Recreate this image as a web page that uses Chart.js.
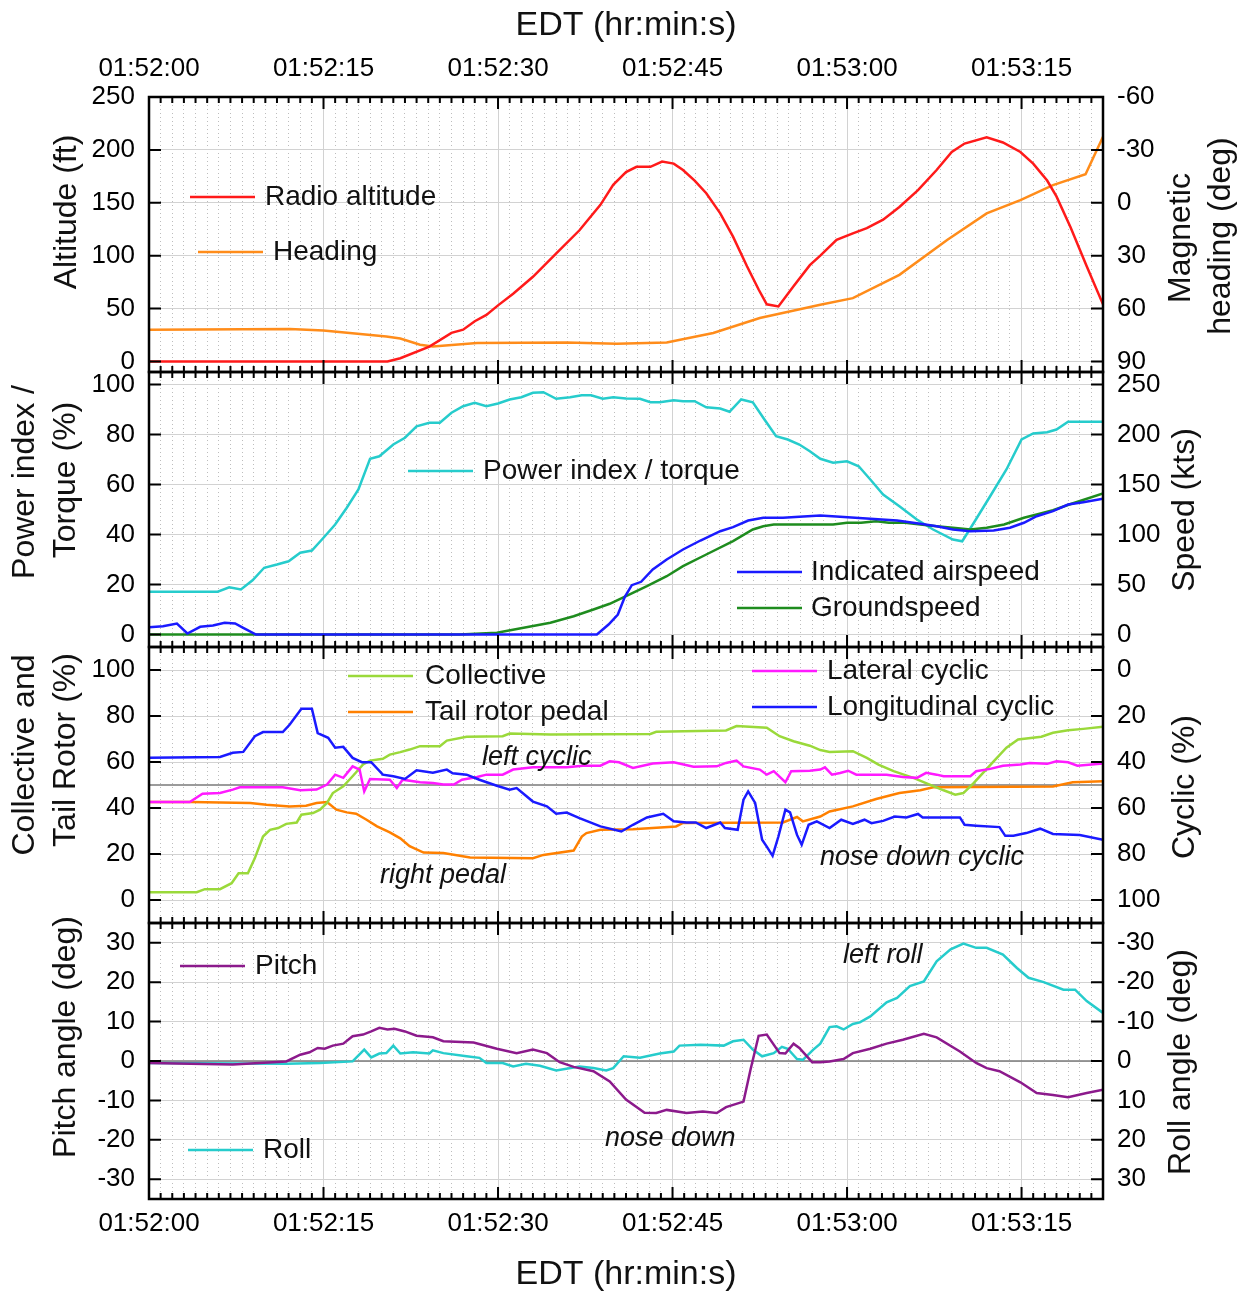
<!DOCTYPE html>
<html>
<head>
<meta charset="utf-8">
<script src="https://cdn.jsdelivr.net/npm/chart.js@4/dist/chart.umd.min.js"></script>
<style>
  body { margin: 0; background: #fff; }
  #wrap { position: relative; width: 1250px; height: 1294px; }
  #wrap canvas { position: absolute; left: 0; top: 0; }
</style>
</head>
<body>
<div id="wrap">
  <canvas id="c1" width="1250" height="1294"></canvas>
  <canvas id="c2" width="1250" height="1294"></canvas>
  <canvas id="c3" width="1250" height="1294"></canvas>
  <canvas id="c4" width="1250" height="1294"></canvas>
</div>
<script>
// ---- data (time in seconds after 01:52:00) ----
const altT = [0, 20.5, 21.6, 24.1, 26.0, 27.0, 28.0, 29.0, 30.0, 31.3,
              33.0, 34.9, 37.0, 38.8, 39.9, 41.0, 41.9, 43.1, 44.1, 45.1,
              45.9, 46.9, 47.9, 49.1, 50.2, 51.4, 52.4, 53.1, 54.1, 55.4,
              56.8, 57.7, 59.1, 60.5, 61.7, 63.1, 64.5, 66.1, 67.7, 69.0,
              70.1, 72.0, 73.4, 74.9, 76.0, 77.2, 78.0, 79.2, 80.6, 82];
const altV = [0, 0, 3, 14, 27, 30, 38, 44, 53, 64,
              80, 101, 124, 148, 167, 179, 184, 184, 189, 187,
              181, 171, 159, 140, 118, 90, 68, 54, 52, 71,
              91, 100, 115, 121, 126, 134, 146, 162, 181, 198,
              206, 212, 207, 198, 187, 171, 156, 127, 90, 54];

const hdgT = [0, 12.1, 15, 20.4, 21.6, 23.3, 24.4, 28.2, 35.9, 40.2,
              44.5, 48.5, 52.5, 57.7, 60.5, 64.5, 68.6, 72, 74.9, 77.7,
              80.5, 82];
const hdgV = [72, 71.6, 72.5, 75.8, 77, 80.5, 81.5, 79.6, 79.3, 80,
              79.3, 73.9, 65.4, 57.9, 54.1, 40.9, 21.1, 6, -1.5, -10,
              -16.2, -37.4];

const pwrT = [0, 5.9, 6.9, 7.9, 8.9, 9.9, 11, 12, 13, 14,
              15, 16, 17, 18, 19, 19.8, 21, 22, 23, 24.1,
              25, 26, 27, 28, 29, 30, 31, 32, 33, 33.9,
              35, 36.2, 37.2, 38, 39, 39.9, 41, 42.2, 43.1, 43.9,
              45.1, 45.9, 46.9, 47.9, 49.1, 49.9, 50.9, 51.9, 52.9, 53.9,
              54.9, 55.9, 56.8, 57.7, 58.8, 60, 61, 62, 63.1, 64.5,
              66, 67.4, 69.1, 69.9, 70.9, 72.3, 73.7, 75, 76, 77.2,
              78, 79, 82];
const pwrV = [17.1, 17.1, 18.9, 18, 21.7, 26.7, 28, 29.3, 32.7, 33.6,
              38.7, 44, 50.7, 58, 70.3, 71.3, 76, 78.7, 83.3, 84.7,
              84.7, 88.7, 91.3, 92.7, 91.3, 92.4, 94, 94.9, 96.7, 96.9,
              94.3, 94.9, 95.7, 95.7, 94.3, 94.9, 94.4, 94.3, 92.9, 92.9,
              93.7, 93.3, 93.3, 90.9, 90.4, 89.1, 94, 92.9, 86, 79.3,
              78, 76, 73.3, 70.3, 68.7, 69.3, 67.3, 62, 56, 51.3,
              46, 42, 38, 37.3, 44.7, 55.3, 66, 78, 80.4, 80.9,
              82, 85.1, 85.1];

const iasT = [0, 1.2, 2.4, 3.3, 4.4, 5.5, 6.5, 7.4, 8.1, 9.2,
              38.5, 39.5, 40.3, 40.9, 41.5, 42.3, 43.3, 44.5, 45.9, 47.4,
              49.1, 50.2, 51.5, 52.8, 54.5, 55.9, 57.7, 59.4, 62, 64.3,
              66.3, 67.7, 69.1, 70.6, 72.6, 74, 75.2, 76.3, 77.7, 79,
              80.3, 82];
const iasV = [7.3, 8.3, 11, 1, 7.7, 9, 11.7, 11, 6.7, 0,
              0, 10, 20, 37.7, 49.3, 52.7, 65, 75, 85, 94,
              103.3, 107.3, 114, 116.7, 116.7, 117.7, 119, 117.7, 115.7, 114,
              110.7, 108.3, 105, 103.3, 104, 106.7, 111.7, 118.3, 123.3, 130,
              132.3, 135.7];

const gsT = [0, 26.7, 29.9, 32.2, 34.5, 36.5, 38.2, 39.6, 41, 42.8,
             44.5, 45.9, 47.9, 50.2, 51.9, 52.8, 53.7, 57.7, 58.8, 60,
             61.2, 62.5, 63.6, 65, 66.3, 67.7, 69.1, 70.6, 72, 73.5,
             75.2, 76.3, 77.7, 79.1, 82];
const gsV = [0, 0, 1.7, 6.7, 11.7, 18.3, 25, 30.7, 38.3, 48.3,
             58.3, 68.3, 80, 93.3, 105, 108.3, 110, 110, 110, 111.7,
             111.7, 113.3, 111.7, 111.7, 110, 108.3, 106.7, 105, 106.7, 110,
             116.7, 120, 124.3, 130, 141];

const colT = [0, 4.1, 4.8, 6.1, 7.1, 7.7, 8.5, 9.1, 9.8, 10.4,
              11.1, 11.8, 12.7, 13.1, 14.1, 14.7, 15.3, 15.8, 16.7, 17.5,
              18.4, 19, 20.1, 20.7, 21.6, 22.4, 23.3, 25, 25.6, 27.3,
              30.4, 31, 34.5, 43.1, 43.6, 49.6, 50.5, 53.1, 54.2, 55.4,
              56.8, 57.7, 58.5, 60.5, 61.7, 62.7, 64, 65.7, 67.1, 68.3,
              69.3, 70, 70.9, 72.6, 73.7, 74.7, 76.7, 77.7, 79, 80.3,
              82];
const colV = [3.4, 3.4, 4.7, 4.7, 7.3, 11.6, 11.6, 18.2, 27.6, 30.5,
              31.3, 33.1, 33.7, 37.1, 37.8, 39.3, 42.2, 46.5, 49.4, 53.8,
              58.9, 60.6, 61.4, 63.2, 64.3, 65.4, 66.9, 66.9, 69.3, 71,
              71.2, 72.4, 72, 72.2, 73.1, 73.7, 75.6, 74.9, 71.2, 69,
              67.1, 65.2, 64.4, 64.7, 61.8, 58.9, 56, 53.1, 50.2, 47.7,
              45.8, 46.5, 50.9, 60.3, 66.2, 69.8, 71, 72.7, 73.8, 74.4,
              75.3];

const pedT = [0, 3.6, 8.7, 10.1, 12.1, 13.5, 14.4, 15.3, 16.1, 17,
              17.8, 18.7, 19.6, 20.7, 21.6, 22.4, 23.6, 25.3, 27.6, 33,
              33.9, 36.5, 37.2, 37.6, 38.8, 41.6, 45.3, 45.9, 54.5, 55.7,
              56.2, 57.7, 58.5, 60.5, 62.5, 64.5, 66.3, 67.4, 77.7, 79.4,
              82];
const pedV = [42.6, 42.6, 42.2, 41.4, 40.7, 41, 42.2, 42.6, 39.3, 38.1,
              37.5, 34.9, 32, 29.4, 26.8, 23.4, 20.6, 20.4, 18.5, 18.2,
              19.6, 21.5, 27.6, 29.1, 30.5, 30.8, 32, 33.5, 33.7, 36.1,
              34.2, 36.3, 38.5, 40.7, 43.9, 46.5, 47.7, 49, 49.4, 51.2,
              51.6];

// cyclic positions in % of the right-hand (reversed) axis
const latT = [0, 3.5, 4.6, 6.1, 7.2, 7.8, 11.5, 13, 14.4, 15.3,
              16, 16.7, 17.5, 18.1, 18.5, 19, 20.7, 21.3, 21.8, 23.3,
              24.4, 25.3, 26.2, 26.9, 28.2, 29, 30.4, 31.3, 33, 35.9,
              37.3, 38.8, 39.6, 40.4, 41.6, 43.3, 45.1, 46.8, 48.8, 49.6,
              50.5, 51.1, 52.5, 53.1, 53.7, 54.7, 55.2, 56.8, 57.7, 58.1,
              58.7, 59.4, 60.1, 60.8, 63.4, 64.8, 66, 66.8, 67.7, 68.3,
              70.6, 71.1, 72.3, 73.4, 74.9, 75.7, 77.2, 78, 79, 79.8,
              82];
const latV = [57.4, 57.4, 53.8, 53.5, 52, 51, 51, 52.3, 52, 49.8,
              45.5, 46.9, 41.9, 43.3, 52.8, 47.4, 47.7, 51.3, 47.7, 48.8,
              49.1, 49.8, 49.8, 47.7, 46.5, 45.5, 45.5, 43.3, 42.3, 42.3,
              41.6, 41.6, 39.7, 40.1, 42.6, 40.7, 40.1, 42.1, 41.9, 40.4,
              39.4, 41.9, 43.3, 45.5, 44, 48.8, 44, 43.8, 43.3, 42.3,
              45.5, 44.8, 43.8, 45.5, 45.5, 46.5, 46.9, 44.7, 45.5, 46.2,
              46.2, 44, 43, 41.6, 41.1, 40.4, 40.8, 39.7, 40.1, 41.6,
              40.7];

const lonT = [0, 6.1, 7.2, 8.1, 9.1, 9.8, 11.5, 12.1, 13.1, 14,
              14.5, 15.4, 16, 16.7, 17.5, 18.3, 19.1, 20.1, 21, 22,
              23, 24.4, 25.6, 26.1, 27.3, 28.4, 29.9, 31, 31.6, 33,
              34.2, 35, 35.9, 37, 38.8, 40.6, 41.6, 42.8, 44.2, 45.1,
              46.2, 47, 47.9, 49.1, 49.5, 50.6, 51.1, 51.5, 52.1, 52.7,
              53.1, 53.6, 54.1, 54.7, 55.1, 55.7, 56.1, 56.7, 57.4, 58.5,
              59.5, 60.5, 61.5, 62.1, 63.1, 64.1, 65.1, 66.1, 66.5, 69.7,
              70.1, 71.1, 73.1, 73.6, 74.3, 75.4, 76.6, 77.7, 80, 82];
const lonV = [38.2, 37.8, 36, 35.6, 28.8, 27, 27, 23.7, 16.8, 16.8,
              27.4, 29.5, 33.8, 33.4, 38.2, 40.1, 40.1, 45.5, 46.2, 47.4,
              43.6, 44.7, 43.3, 44.9, 45.5, 47.7, 50.3, 52, 51.3, 57.2,
              59.3, 62.5, 62, 64.4, 68, 70.2, 67.3, 64.1, 62.5, 65.8,
              66.3, 66.3, 68.7, 66.3, 68.7, 69.5, 56.4, 52.8, 57.8, 73.8,
              76.8, 80.8, 72.4, 60.7, 61.9, 71.7, 76, 67.3, 65.8, 68.7,
              65.1, 66.9, 65.1, 66.6, 65.6, 63.7, 64.1, 62.6, 64.1, 64.1,
              67.3, 67.7, 68.3, 72.1, 72.1, 70.9, 69, 71.3, 71.7, 73.8];

const pitT = [0, 7.2, 11.8, 13, 13.8, 14.5, 15.1, 15.8, 16.7, 17.5,
              18.4, 19.1, 19.8, 20.5, 21.1, 22, 23, 24.4, 25.3, 27.9,
              29.9, 31.6, 33, 34.2, 35.3, 36.5, 38.2, 39.6, 41, 42.6,
              43.6, 44.5, 46.2, 47.6, 48.8, 49.6, 51.1, 51.7, 52.4, 53.1,
              54.2, 54.7, 55.4, 55.9, 57, 57.7, 58.5, 59.7, 60.5, 62,
              63.4, 64.8, 66.6, 67.7, 69.7, 71.1, 72, 73.1, 74.9, 76.3,
              77.7, 79, 80.6, 82];
const pitV = [-0.5, -0.9, -0.1, 1.6, 2.2, 3.3, 3.1, 3.9, 4.4, 6.3,
              6.7, 7.5, 8.4, 8, 8.2, 7.5, 6.4, 6, 5, 4.7,
              3.1, 2, 2.9, 2, -0.3, -1.5, -2.6, -5.2, -9.8, -13.1,
              -13.2, -12.4, -13.2, -12.8, -13.2, -11.7, -10.3, -2.2, 6.4, 6.7,
              2, 1.9, 4.4, 3.3, -0.3, -0.3, -0.1, 0.5, 2, 3.1,
              4.4, 5.4, 6.9, 6, 2.4, -0.5, -1.8, -2.6, -5.4, -8.1,
              -8.6, -9.2, -8.1, -7.3];

const rolT = [0, 11.8, 14.7, 17.5, 18.5, 19.1, 19.8, 20.4, 21, 21.6,
              22.7, 24.1, 24.4, 25.3, 27.3, 28.4, 29, 30.4, 31.3, 32.4,
              33.6, 35, 37, 38.2, 39.3, 39.9, 40.8, 42.2, 43.9, 45.1,
              45.6, 47.4, 49.4, 50.2, 51.1, 51.9, 52.7, 53.7, 54.4, 54.9,
              55.7, 56.2, 57.1, 57.7, 58.5, 59.1, 59.7, 60.5, 61.1, 62,
              63.4, 64.3, 65.4, 66.6, 67.7, 68.9, 70, 71.1, 72, 73.4,
              74.6, 75.6, 76.9, 78.6, 79.6, 80.6, 82];
const rolV = [0.5, 0.7, 0.5, 0.1, -2.9, -0.9, -1.9, -2, -3.9, -1.9,
              -2.2, -1.9, -2.7, -2, -1.2, -0.8, 0.5, 0.5, 1.4, 0.7,
              1.2, 2.4, 1.4, 1.8, 2.4, 1.8, -1.2, -0.8, -1.9, -2.4,
              -3.9, -4.1, -3.9, -5, -5.4, -2.9, -1.2, -2, -3.6, -3.1,
              -0.5, -0.3, -2.9, -4.4, -8.6, -8.8, -8, -9.4, -9.8, -11.3,
              -14.9, -16, -19, -20.2, -25.3, -28.3, -29.8, -28.7, -28.7, -27,
              -23.6, -21.1, -20, -18.1, -18.1, -15.2, -12.2];

const refT = [0, 82];
const centreV = [50, 50];
const zeroV = [0, 0];

// ---- axis ticks ----
const X_MAX = 82;
const xTickVals = [];
for (let s = 0; s <= 81; s++) xTickVals.push(s);
const ticksAlt = [0, 25, 50, 75, 100, 125, 150, 175, 200, 225, 250];
const ticksHdg = [-60, -45, -30, -15, 0, 15, 30, 45, 60, 75, 90];
const ticksPct = [0, 10, 20, 30, 40, 50, 60, 70, 80, 90, 100];
const ticksKts = [0, 25, 50, 75, 100, 125, 150, 175, 200, 225, 250];
const ticksDeg = [-30, -25, -20, -15, -10, -5, 0, 5, 10, 15, 20, 25, 30];

const FONT = "'Liberation Sans', Arial, sans-serif";
const isMaj = (v, step) => Math.abs(v / step - Math.round(v / step)) < 1e-6;
const pts = (ts, vs) => ts.map((t, i) => ({x: t, y: vs[i]}));
const xLabel = v => '01:' + (52 + Math.floor(v / 60)) + ':' + String(v % 60).padStart(2, '0');

function line(ts, vs, color, axis, width) {
  return {
    data: pts(ts, vs), borderColor: color, backgroundColor: color,
    borderWidth: width || 2.5, pointRadius: 0, tension: 0, yAxisID: axis
  };
}

function xScale(pos, show, h) {
  return {
    type: 'linear', position: pos, min: 0, max: X_MAX,
    afterBuildTicks: s => { s.ticks = xTickVals.map(v => ({value: v})); },
    afterFit: s => { s.height = h; },
    ticks: {
      display: show, autoSkip: false, maxRotation: 0, minRotation: 0,
      padding: pos === 'top' ? 13 : 9, color: '#000',
      font: {family: FONT, size: 26},
      callback: v => isMaj(v, 15) ? xLabel(v) : ''
    },
    grid: {
      drawTicks: false, lineWidth: 1,
      color: c => (c.tick && !isMaj(c.tick.value, 15)) ? '#bdbdbd' : '#d2d2d2'
    },
    border: {display: false, dash: c => (c.tick && !isMaj(c.tick.value, 15)) ? [1, 3] : []}
  };
}

function yScale(pos, min, max, list, major, reverse) {
  const left = pos === 'left';
  return {
    type: 'linear', position: pos, min: min, max: max, reverse: !!reverse,
    afterBuildTicks: s => { s.ticks = list.map(v => ({value: v})); },
    afterFit: s => { s.width = left ? 149 : 147; },
    ticks: {
      padding: 14, color: '#000', font: {family: FONT, size: 26},
      callback: v => isMaj(v, major) ? String(v) : ''
    },
    grid: left ? {
      drawTicks: false, lineWidth: 1,
      color: c => (c.tick && !isMaj(c.tick.value, major)) ? '#bdbdbd' : '#d2d2d2'
    } : {drawOnChartArea: false, drawTicks: false},
    border: {display: false, dash: c => (c.tick && !isMaj(c.tick.value, major)) ? [1, 3] : []}
  };
}

// frame, inward tick marks, legends, notes and axis titles
const panelPlugin = {
  id: 'panel',
  afterDatasetsDraw(chart, args, o) {
    const {ctx, chartArea: a, scales} = chart;
    ctx.save();
    ctx.strokeStyle = '#000';
    ctx.lineWidth = 2;
    ctx.beginPath();
    scales.x.ticks.forEach(t => {
      const p = scales.x.getPixelForValue(t.value);
      const l = isMaj(t.value, 15) ? 12 : 6;
      ctx.moveTo(p, a.top); ctx.lineTo(p, a.top + l);
      ctx.moveTo(p, a.bottom); ctx.lineTo(p, a.bottom - l);
    });
    [['y', 1, a.left], ['y2', -1, a.right]].forEach(([id, dir, x0]) => {
      const s = scales[id];
      s.ticks.forEach(t => {
        const p = s.getPixelForValue(t.value);
        const l = isMaj(t.value, o.major[id]) ? 12 : 6;
        ctx.moveTo(x0, p); ctx.lineTo(x0 + dir * l, p);
      });
    });
    ctx.stroke();
    ctx.lineWidth = 2.5;
    ctx.strokeRect(a.left, a.top, a.width, a.height);

    ctx.fillStyle = '#111';
    ctx.textBaseline = 'middle';
    ctx.textAlign = 'left';
    (o.legend || []).forEach(it => {
      ctx.strokeStyle = it.color;
      ctx.lineWidth = 2.5;
      ctx.beginPath();
      ctx.moveTo(it.x1, it.y); ctx.lineTo(it.x2, it.y);
      ctx.stroke();
      ctx.font = '28px ' + FONT;
      ctx.fillText(it.text, it.tx, it.y);
    });
    (o.notes || []).forEach(it => {
      ctx.font = 'italic 27px ' + FONT;
      ctx.fillText(it.text, it.x, it.y);
    });
    ctx.textAlign = 'center';
    (o.titles || []).forEach(it => {
      ctx.save();
      ctx.translate(it.x, it.y);
      if (it.rot) ctx.rotate(it.rot);
      ctx.font = (it.size || 32) + 'px ' + FONT;
      ctx.textBaseline = it.base || 'middle';
      ctx.fillText(it.text, 0, 0);
      ctx.restore();
    });
    ctx.restore();
  }
};

const UP = -Math.PI / 2;

// padTop/padBottom: canvas padding outside the panel box (x axis sits inside it)
function makeChart(id, padTop, padBottom, xPos, xShow, xH, datasets, y, y2, panel) {
  return new Chart(document.getElementById(id), {
    type: 'line',
    data: {datasets: datasets},
    options: {
      responsive: false, animation: false,
      layout: {autoPadding: false, padding: {top: padTop, bottom: padBottom, left: 0, right: 0}},
      plugins: {legend: {display: false}, tooltip: {enabled: false}, panel: panel},
      scales: {x: xScale(xPos, xShow, xH), y: y, y2: y2}
    },
    plugins: [panelPlugin]
  });
}

// panel 1: altitude and heading (plot area 97..372)
makeChart('c1', 0, 1294 - 372, 'top', true, 97,
  [line(altT, altV, '#ff1a1a', 'y'), line(hdgT, hdgV, '#ff8c1a', 'y2')],
  yScale('left', -10, 250, ticksAlt, 50), yScale('right', -60, 96, ticksHdg, 30, true),
  {
    major: {y: 50, y2: 30},
    legend: [
      {x1: 190, x2: 255, y: 197, tx: 265, text: 'Radio altitude', color: '#ff1a1a'},
      {x1: 198, x2: 263, y: 252, tx: 273, text: 'Heading', color: '#ff8c1a'}
    ],
    titles: [
      {text: 'EDT (hr:min:s)', x: 626, y: 35, size: 34, base: 'alphabetic'},
      {text: 'Altitude (ft)', x: 67, y: 212, rot: UP},
      {text: 'Magnetic', x: 1181, y: 238, rot: UP},
      {text: 'heading (deg)', x: 1221, y: 236, rot: UP}
    ]
  });

// panel 2: power and speeds (plot area 372..647)
makeChart('c2', 372, 1294 - 647, 'bottom', false, 0,
  [line(iasT, iasV, '#1a1aff', 'y2'), line(gsT, gsV, '#1e8c1e', 'y2'), line(pwrT, pwrV, '#26cccc', 'y')],
  yScale('left', -5, 105, ticksPct, 20), yScale('right', -12.5, 262.5, ticksKts, 50),
  {
    major: {y: 20, y2: 50},
    legend: [
      {x1: 408, x2: 473, y: 471, tx: 483, text: 'Power index / torque', color: '#26cccc'},
      {x1: 737, x2: 802, y: 572, tx: 811, text: 'Indicated airspeed', color: '#1a1aff'},
      {x1: 737, x2: 802, y: 608, tx: 811, text: 'Groundspeed', color: '#1e8c1e'}
    ],
    titles: [
      {text: 'Power index /', x: 25, y: 482, rot: UP},
      {text: 'Torque (%)', x: 66, y: 480, rot: UP},
      {text: 'Speed (kts)', x: 1185, y: 510, rot: UP}
    ]
  });

// panel 3: controls (plot area 647..923)
makeChart('c3', 647, 1294 - 923, 'bottom', false, 0,
  [line(lonT, lonV, '#1a1aff', 'y2'), line(latT, latV, '#ff1aff', 'y2'),
   line(colT, colV, '#9ad93a', 'y'), line(pedT, pedV, '#ff8000', 'y'),
   line(refT, centreV, '#7a7a7a', 'y', 1.6)],
  yScale('left', -10, 110, ticksPct, 20), yScale('right', -10, 110, ticksPct, 20, true),
  {
    major: {y: 20, y2: 20},
    legend: [
      {x1: 348, x2: 413, y: 676, tx: 425, text: 'Collective', color: '#9ad93a'},
      {x1: 348, x2: 413, y: 712, tx: 425, text: 'Tail rotor pedal', color: '#ff8000'},
      {x1: 752, x2: 817, y: 671, tx: 827, text: 'Lateral cyclic', color: '#ff1aff'},
      {x1: 752, x2: 817, y: 707, tx: 827, text: 'Longitudinal cyclic', color: '#1a1aff'}
    ],
    notes: [
      {text: 'left cyclic', x: 482, y: 757},
      {text: 'right pedal', x: 380, y: 875},
      {text: 'nose down cyclic', x: 820, y: 857}
    ],
    titles: [
      {text: 'Collective and', x: 25, y: 755, rot: UP},
      {text: 'Tail Rotor (%)', x: 66, y: 750, rot: UP},
      {text: 'Cyclic (%)', x: 1185, y: 787, rot: UP}
    ]
  });

// panel 4: attitude (plot area 923..1199, x labels below)
makeChart('c4', 923, 0, 'bottom', true, 1294 - 1199,
  [line(pitT, pitV, '#8c1a8c', 'y'), line(rolT, rolV, '#26cccc', 'y2'),
   line(refT, zeroV, '#7a7a7a', 'y', 1.6)],
  yScale('left', -35, 35, ticksDeg, 10), yScale('right', -35, 35, ticksDeg, 10, true),
  {
    major: {y: 10, y2: 10},
    legend: [
      {x1: 180, x2: 245, y: 966, tx: 255, text: 'Pitch', color: '#8c1a8c'},
      {x1: 188, x2: 253, y: 1150, tx: 263, text: 'Roll', color: '#26cccc'}
    ],
    notes: [
      {text: 'left roll', x: 843, y: 955},
      {text: 'nose down', x: 605, y: 1138}
    ],
    titles: [
      {text: 'Pitch angle (deg)', x: 66, y: 1037, rot: UP},
      {text: 'Roll angle (deg)', x: 1181, y: 1062, rot: UP},
      {text: 'EDT (hr:min:s)', x: 626, y: 1284, size: 34, base: 'alphabetic'}
    ]
  });
</script>
</body>
</html>
